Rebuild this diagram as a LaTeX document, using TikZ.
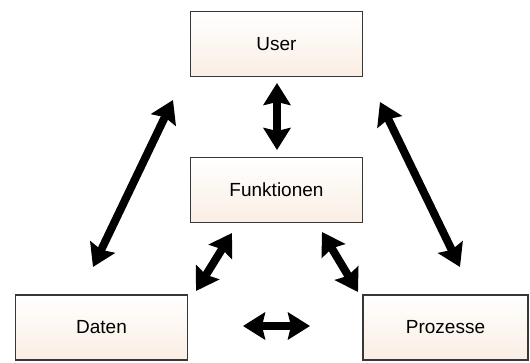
\documentclass[tikz,border=0pt]{standalone}
\usepackage{fontspec}
\setmainfont{Liberation Sans}
\usetikzlibrary{arrows.meta}
\definecolor{boxline}{RGB}{55,55,55}
\definecolor{peach}{RGB}{250,238,228}
\begin{document}
\begin{tikzpicture}[x=1pt,y=-1pt,
  box/.style={draw=boxline, line width=1.6pt, top color=white, bottom color=peach,
    minimum width=172pt, minimum height=65pt, inner sep=0pt,
    font=\fontsize{19}{22}\selectfont},
  bigarrow/.style={line width=8pt, {Stealth[width=27pt,length=22pt,inset=3pt]}-{Stealth[width=27pt,length=22pt,inset=3pt]}}]
\useasboundingbox (0,0) rectangle (530,363);
\node[box] (user) at (276.5,44) {User};
\node[box] (funk) at (276.5,190) {Funktionen};
\node[box] (daten) at (101.5,327.5) {Daten};
\node[box, minimum width=165pt] (proz) at (445.5,327.5) {Prozesse};
% arrow end points
\coordinate (uf1) at (277,83);
\coordinate (uf2) at (277,150);
\coordinate (ud1) at (173,100);
\coordinate (ud2) at (93,267);
\coordinate (up1) at (380,102);
\coordinate (up2) at (460,267);
\coordinate (fd1) at (232,233);
\coordinate (fd2) at (196,291);
\coordinate (fp1) at (322,232);
\coordinate (fp2) at (358,292);
\coordinate (dp1) at (243,326);
\coordinate (dp2) at (310,326);
\draw[bigarrow] (uf1) -- (uf2);
\draw[bigarrow] (ud1) -- (ud2);
\draw[bigarrow] (up1) -- (up2);
\draw[bigarrow] (fd1) -- (fd2);
\draw[bigarrow] (fp1) -- (fp2);
\draw[bigarrow] (dp1) -- (dp2);
\end{tikzpicture}
\end{document}
